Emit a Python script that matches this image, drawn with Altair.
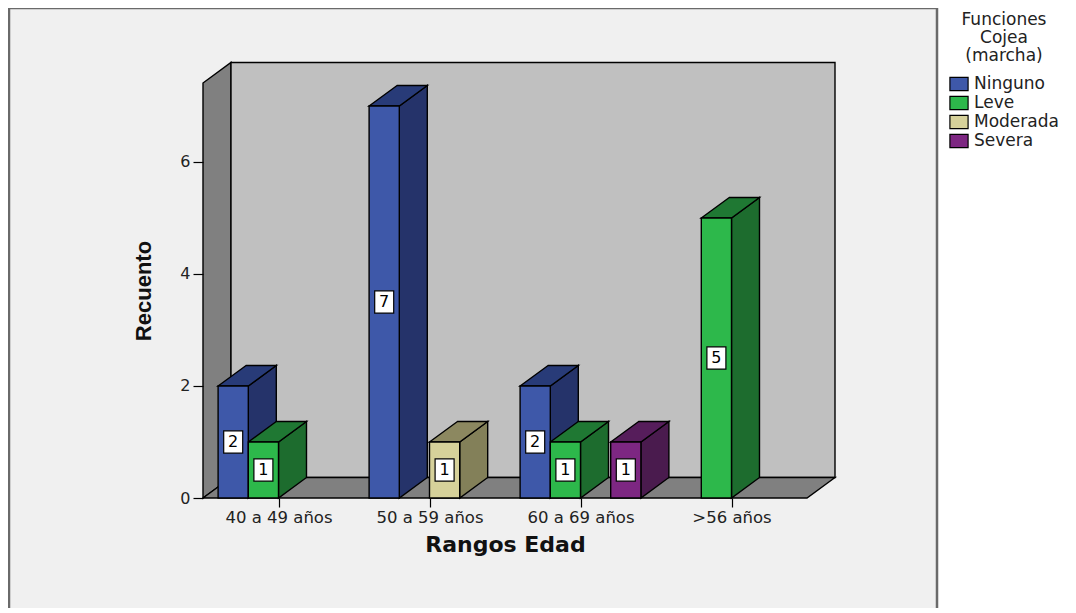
import altair as alt
import pandas as pd

# ---------------- data ----------------
categories = ["40 a 49 años", "50 a 59 años", "60 a 69  años", ">56 años"]
series = ["Ninguno", "Leve", "Moderada", "Severa"]
ninguno = [2, 7, 2, 0]
leve = [1, 0, 1, 5]
moderada = [0, 1, 0, 0]
severa = [0, 0, 1, 0]
y_ticks = [0, 2, 4, 6]

front_colors = ["#3E58A9", "#2DB84B", "#D6D19A", "#7D2782"]
side_colors = ["#25336A", "#1D6C2E", "#838059", "#4A1B4E"]
top_colors = ["#283B78", "#1F7833", "#8C8860", "#561D5B"]

# ---------------- geometry (3D style) ----------------
YMAX = 7.41          # top of the walls, in count units
SLOTS = 5            # 4 bar slots + 1 gap per category
XMAX = SLOTS * len(categories)
DX = 0.927           # depth offset in x (slot units)
DY = 0.366           # depth offset in y (count units)

counts = [ninguno, leve, moderada, severa]

fronts, sides, tops = [], [], []
for i, cat in enumerate(categories):
    for j, s in enumerate(series):
        v = counts[j][i]
        if v <= 0:
            continue
        L = 0.5 + SLOTS * i + j
        R = L + 1
        bid = f"{i}-{j}"
        fronts.append(dict(id=bid, series=s, cat=cat, L=L, R=R, base=0, v=v,
                           cx=L + 0.5, mid=v / 2, label=str(v)))
        sides.append(dict(id=bid, x=R, lo=0, hi=v, c=side_colors[j]))
        sides.append(dict(id=bid, x=R + DX, lo=DY, hi=v + DY, c=side_colors[j]))
        tops.append(dict(id=bid, y=v, x1=L, x2=R, c=top_colors[j]))
        tops.append(dict(id=bid, y=v + DY, x1=L + DX, x2=R + DX, c=top_colors[j]))

df_front = pd.DataFrame(fronts)
df_side = pd.DataFrame(sides)
df_top = pd.DataFrame(tops)

df_lwall = pd.DataFrame([dict(x=0, lo=0, hi=YMAX), dict(x=DX, lo=DY, hi=YMAX + DY)])
df_bwall = pd.DataFrame([dict(x1=DX, x2=XMAX + DX, y1=DY, y2=YMAX + DY)])
df_floor = pd.DataFrame([dict(y=0, x1=0, x2=XMAX), dict(y=DY, x1=DX, x2=XMAX + DX)])
df_one = pd.DataFrame([dict(a=1)])

# ---------------- scales / axes ----------------
FONT = "DejaVu Sans"
xscale = alt.Scale(domain=[0, XMAX], nice=False, zero=False)
yscale = alt.Scale(domain=[0, YMAX], nice=False, zero=False)
tick_pos = [0.5 + SLOTS * i + 2 for i in range(len(categories))]
cat_js = "[" + ",".join("'" + c + "'" for c in categories) + "]"
xaxis = alt.Axis(values=tick_pos, labelExpr=f"{cat_js}[floor(datum.value/{SLOTS})]",
                 title="Rangos Edad", grid=False, domain=False, tickSize=9,
                 tickColor="black", tickWidth=1.2, labelFont=FONT, labelFontSize=16.5,
                 labelColor="#222", labelPadding=2, titleFont=FONT, titleFontSize=22,
                 titleFontWeight="bold", titleColor="#111", titlePadding=9, zindex=2)
yaxis = alt.Axis(values=y_ticks, format="d", title="Recuento", grid=False, domain=False,
                 tickSize=10, tickColor="black", tickWidth=1.2, labelFont=FONT,
                 labelFontSize=16, labelColor="#222", labelPadding=3,
                 titleFont="Liberation Sans", titleFontSize=22, titleFontWeight="bold",
                 titleColor="#111", titlePadding=24, zindex=2)


def X(f):
    return alt.X(f, type="quantitative", scale=xscale, axis=xaxis)


def Y(f):
    return alt.Y(f, type="quantitative", scale=yscale, axis=yaxis)


STROKE = dict(stroke="black", strokeWidth=1.4)

frame = alt.Chart(df_one).mark_rect(fill="#f0f0f0", stroke="#6a6a6a", strokeWidth=2.5).encode(
    x=alt.value(-194), x2=alt.value(734), y=alt.value(-75), y2=alt.value(560))

lwall = alt.Chart(df_lwall).mark_area(orient="vertical", fill="#808080", **STROKE).encode(
    x=X("x"), y=Y("hi"), y2="lo")
bwall = alt.Chart(df_bwall).mark_rect(fill="#c0c0c0", **STROKE).encode(
    x=X("x1"), x2="x2", y=Y("y1"), y2="y2")
floor = alt.Chart(df_floor).mark_area(orient="horizontal", fill="#808080", **STROKE).encode(
    y=Y("y"), x=X("x1"), x2="x2")

side = alt.Chart(df_side).mark_area(orient="vertical", **STROKE).encode(
    x=X("x"), y=Y("hi"), y2="lo", fill=alt.Fill("c:N", scale=None), detail="id:N")
top = alt.Chart(df_top).mark_area(orient="horizontal", **STROKE).encode(
    y=Y("y"), x=X("x1"), x2="x2", fill=alt.Fill("c:N", scale=None), detail="id:N")

front = alt.Chart(df_front).mark_rect(**STROKE).encode(
    x=X("L"), x2="R", y=Y("base"), y2="v",
    color=alt.Color("series:N", scale=alt.Scale(domain=series, range=front_colors),
                    legend=alt.Legend(
                        orient="none", legendX=746, legendY=-71,
                        title=["Funciones", "Cojea", "(marcha)"],
                        titleAlign="center", titleAnchor="middle",
                        titleFont=FONT, titleFontSize=17, titleFontWeight="normal",
                        titleColor="#222", titleLineHeight=18, titlePadding=9,
                        labelFont=FONT, labelFontSize=17, labelColor="#222",
                        symbolType="M-1,-0.72L1,-0.72L1,0.72L-1,0.72Z", symbolSize=330,
                        symbolStrokeColor="black", symbolStrokeWidth=1.2,
                        symbolOpacity=1, rowPadding=0, labelOffset=5)),
    tooltip=["cat", "series", "v"])

boxes = alt.Chart(df_front).mark_point(
    shape="M-0.85,-1L0.85,-1L0.85,1L-0.85,1Z", size=500, filled=True,
    fill="white", stroke="black", strokeWidth=1.2, opacity=1).encode(
    x=X("cx"), y=Y("mid"))
texts = alt.Chart(df_front).mark_text(font=FONT, fontSize=16, color="black",
                                       baseline="middle", align="center").encode(
    x=X("cx"), y=Y("mid"), text="label:N")

chart = alt.layer(frame, lwall, bwall, floor, side, top, front, boxes, texts).properties(
    width=604, height=415,
    padding={"left": 195, "top": 75, "right": 261, "bottom": 110},
    autosize=alt.AutoSizeParams(type="none"),
    background="white",
).configure_view(stroke=None)

chart.save("out.html", embed_options={"renderer": "svg", "actions": False})
